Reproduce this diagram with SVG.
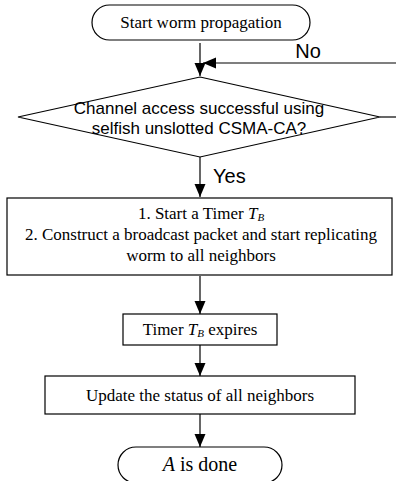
<svg xmlns="http://www.w3.org/2000/svg" width="396" height="481" viewBox="0 0 396 481">
<defs>
<marker id="ah" markerUnits="userSpaceOnUse" markerWidth="14" markerHeight="12" refX="13" refY="5.5" orient="auto">
<path d="M0,0 L13,5.5 L0,11 z" fill="#000"/>
</marker>
<style>
.s{fill:#fff;stroke:#000;stroke-width:1.2}
.c{fill:none;stroke:#000;stroke-width:1.2}
.t{font-family:"Liberation Serif","Times New Roman",serif;font-size:17px;fill:#000;text-anchor:middle}
.a{font-family:"Liberation Sans",Arial,sans-serif;font-size:17px;fill:#000;text-anchor:middle}
.l{font-family:"Liberation Sans",Arial,sans-serif;font-size:20px;fill:#000}
.i{font-style:italic}
.sub{font-style:italic;font-size:11px}
</style>
</defs>
<g id="connectors">
<line class="c" x1="200" y1="43" x2="200" y2="76" marker-end="url(#ah)"/>
<line class="c" x1="396" y1="63" x2="203" y2="63" marker-end="url(#ah)"/>
<line class="c" x1="380" y1="117" x2="396" y2="117"/>
<line class="c" x1="200" y1="157" x2="200" y2="197" marker-end="url(#ah)"/>
<line class="c" x1="200" y1="276" x2="200" y2="314" marker-end="url(#ah)"/>
<line class="c" x1="200" y1="345" x2="200" y2="376" marker-end="url(#ah)"/>
<line class="c" x1="200" y1="414" x2="200" y2="447" marker-end="url(#ah)"/>
<text class="l" x="308" y="58" text-anchor="middle">No</text>
<text class="l" x="213" y="183">Yes</text>
</g>
<g id="start">
<rect class="s" x="92" y="5" width="218" height="35" rx="17.5"/>
<text class="t" x="201" y="28">Start worm propagation</text>
</g>
<g id="decision">
<polygon class="s" points="200,77 380,117 200,157 18,117"/>
<text class="a" x="199" y="114">Channel access successful using</text>
<text class="a" x="199" y="134">selfish unslotted CSMA-CA?</text>
</g>
<g id="broadcast">
<rect class="s" x="7" y="198" width="385" height="77"/>
<text class="t" x="201" y="219">1. Start a Timer <tspan class="i">T</tspan><tspan class="sub" dy="2">B</tspan></text>
<text class="t" x="201" y="240">2. Construct a broadcast packet and start replicating</text>
<text class="t" x="201" y="261">worm to all neighbors</text>
</g>
<g id="timer">
<rect class="s" x="123" y="314" width="154" height="31"/>
<text class="t" x="200" y="335">Timer <tspan class="i">T</tspan><tspan class="sub" dy="2">B</tspan><tspan dy="-2"> expires</tspan></text>
</g>
<g id="update">
<rect class="s" x="45" y="376" width="310" height="38"/>
<text class="t" x="200" y="401">Update the status of all neighbors</text>
</g>
<g id="end">
<rect class="s" x="118" y="447" width="164" height="36" rx="18"/>
<text class="t" x="200" y="471" style="font-size:20px"><tspan class="i">A</tspan> is done</text>
</g>
</svg>
